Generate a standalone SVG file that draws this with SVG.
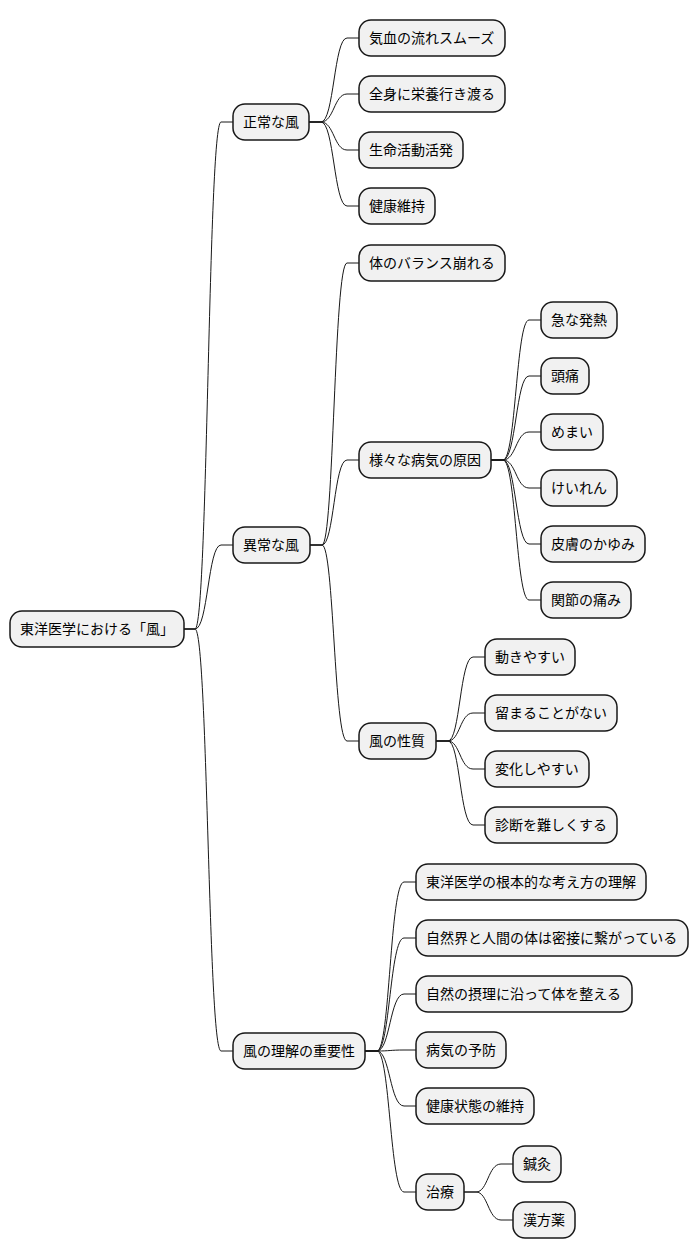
<svg xmlns="http://www.w3.org/2000/svg" width="698" height="1259" viewBox="0 0 698 1259">
<style>
.n rect{fill:#F1F1F1;stroke:#181818;stroke-width:1.5}
.n text{font-family:"Noto Sans CJK JP","Noto Sans",sans-serif;font-size:14px;fill:#000}
.c path{fill:none;stroke:#181818;stroke-width:1}
</style>
<rect width="698" height="1259" fill="#fff"/>
<g class="c">
<path d="M183,629 H195 C208,629 208,122 221,122 H233"/>
<path d="M183,629 H195 C208,629 208,545 221,545 H233"/>
<path d="M183,629 H195 C208,629 208,1051 221,1051 H233"/>
<path d="M309,122 H321 C334,122 334,38 347,38 H359"/>
<path d="M309,122 H321 C334,122 334,94 347,94 H359"/>
<path d="M309,122 H321 C334,122 334,150 347,150 H359"/>
<path d="M309,122 H321 C334,122 334,206 347,206 H359"/>
<path d="M310,545 H322 C334,545 334,263 347,263 H359"/>
<path d="M310,545 H322 C334,545 334,460 347,460 H359"/>
<path d="M310,545 H322 C334,545 334,741 347,741 H359"/>
<path d="M491,460 H503 C516,460 516,320 529,320 H541"/>
<path d="M491,460 H503 C516,460 516,376 529,376 H541"/>
<path d="M491,460 H503 C516,460 516,432 529,432 H541"/>
<path d="M491,460 H503 C516,460 516,488 529,488 H541"/>
<path d="M491,460 H503 C516,460 516,544 529,544 H541"/>
<path d="M491,460 H503 C516,460 516,600 529,600 H541"/>
<path d="M436,741 H448 C460,741 460,657 473,657 H485"/>
<path d="M436,741 H448 C460,741 460,713 473,713 H485"/>
<path d="M436,741 H448 C460,741 460,769 473,769 H485"/>
<path d="M436,741 H448 C460,741 460,825 473,825 H485"/>
<path d="M365,1051 H377 C390,1051 390,882 404,882 H416"/>
<path d="M365,1051 H377 C390,1051 390,938 404,938 H416"/>
<path d="M365,1051 H377 C390,1051 390,994 404,994 H416"/>
<path d="M365,1051 H377 C390,1051 390,1050 404,1050 H416"/>
<path d="M365,1051 H377 C390,1051 390,1106 404,1106 H416"/>
<path d="M365,1051 H377 C390,1051 390,1192 404,1192 H416"/>
<path d="M464,1192 H476 C488,1192 488,1164 501,1164 H513"/>
<path d="M464,1192 H476 C488,1192 488,1220 501,1220 H513"/>
</g>
<g id="root" class="n"><rect x="10" y="611" width="174" height="36" rx="12"/><text x="20" y="634">東洋医学における「風」</text></g>
<g id="n1" class="n"><rect x="233" y="104" width="76" height="36" rx="12"/><text x="243" y="127">正常な風</text></g>
<g id="n1a" class="n"><rect x="359" y="20" width="146" height="36" rx="12"/><text x="369" y="43">気血の流れスムーズ</text></g>
<g id="n1b" class="n"><rect x="359" y="76" width="146" height="36" rx="12"/><text x="369" y="99">全身に栄養行き渡る</text></g>
<g id="n1c" class="n"><rect x="359" y="132" width="104" height="36" rx="12"/><text x="369" y="155">生命活動活発</text></g>
<g id="n1d" class="n"><rect x="359" y="188" width="76" height="36" rx="12"/><text x="369" y="211">健康維持</text></g>
<g id="n2" class="n"><rect x="233" y="527" width="77" height="36" rx="12"/><text x="243" y="550">異常な風</text></g>
<g id="n2a" class="n"><rect x="359" y="245" width="146" height="36" rx="12"/><text x="369" y="268">体のバランス崩れる</text></g>
<g id="n2b" class="n"><rect x="359" y="442" width="132" height="36" rx="12"/><text x="369" y="465">様々な病気の原因</text></g>
<g id="n2b1" class="n"><rect x="541" y="302" width="76" height="36" rx="12"/><text x="551" y="325">急な発熱</text></g>
<g id="n2b2" class="n"><rect x="541" y="358" width="48" height="36" rx="12"/><text x="551" y="381">頭痛</text></g>
<g id="n2b3" class="n"><rect x="541" y="414" width="62" height="36" rx="12"/><text x="551" y="437">めまい</text></g>
<g id="n2b4" class="n"><rect x="541" y="470" width="76" height="36" rx="12"/><text x="551" y="493">けいれん</text></g>
<g id="n2b5" class="n"><rect x="541" y="526" width="104" height="36" rx="12"/><text x="551" y="549">皮膚のかゆみ</text></g>
<g id="n2b6" class="n"><rect x="541" y="582" width="90" height="36" rx="12"/><text x="551" y="605">関節の痛み</text></g>
<g id="n2c" class="n"><rect x="359" y="723" width="77" height="36" rx="12"/><text x="369" y="746">風の性質</text></g>
<g id="n2c1" class="n"><rect x="485" y="639" width="90" height="36" rx="12"/><text x="495" y="662">動きやすい</text></g>
<g id="n2c2" class="n"><rect x="485" y="695" width="132" height="36" rx="12"/><text x="495" y="718">留まることがない</text></g>
<g id="n2c3" class="n"><rect x="485" y="751" width="104" height="36" rx="12"/><text x="495" y="774">変化しやすい</text></g>
<g id="n2c4" class="n"><rect x="485" y="807" width="132" height="36" rx="12"/><text x="495" y="830">診断を難しくする</text></g>
<g id="n3" class="n"><rect x="233" y="1033" width="132" height="36" rx="12"/><text x="243" y="1056">風の理解の重要性</text></g>
<g id="n3a" class="n"><rect x="416" y="864" width="230" height="36" rx="12"/><text x="426" y="887">東洋医学の根本的な考え方の理解</text></g>
<g id="n3b" class="n"><rect x="416" y="920" width="272" height="36" rx="12"/><text x="426" y="943">自然界と人間の体は密接に繋がっている</text></g>
<g id="n3c" class="n"><rect x="416" y="976" width="216" height="36" rx="12"/><text x="426" y="999">自然の摂理に沿って体を整える</text></g>
<g id="n3d" class="n"><rect x="416" y="1032" width="90" height="36" rx="12"/><text x="426" y="1055">病気の予防</text></g>
<g id="n3e" class="n"><rect x="416" y="1088" width="118" height="36" rx="12"/><text x="426" y="1111">健康状態の維持</text></g>
<g id="n3f" class="n"><rect x="416" y="1174" width="48" height="36" rx="12"/><text x="426" y="1197">治療</text></g>
<g id="n3f1" class="n"><rect x="513" y="1146" width="48" height="36" rx="12"/><text x="523" y="1169">鍼灸</text></g>
<g id="n3f2" class="n"><rect x="513" y="1202" width="62" height="36" rx="12"/><text x="523" y="1225">漢方薬</text></g>
</svg>
